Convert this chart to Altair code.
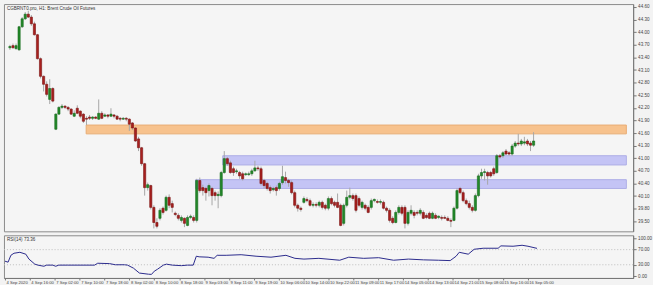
import altair as alt
import pandas as pd

# ---------------- data ----------------
opens = [43.63, 43.68, 43.61, 43.58, 44.13, 44.32, 44.43, 44.36, 44.20, 43.94,
         43.37, 42.95, 42.76, 42.40, 42.66, 41.69, 42.05, 42.21, 42.24, 42.21,
         42.17, 42.00, 42.19, 42.12, 42.05, 41.95, 41.98, 41.95, 41.98, 41.93,
         42.07, 42.00, 42.03, 42.00, 42.03, 42.00, 41.95, 41.93, 41.95, 41.93,
         41.84, 41.72, 41.46, 41.25, 40.87, 40.30, 40.35, 39.83, 39.47, 39.57,
         39.81, 39.76, 40.07, 39.92, 39.69, 39.64, 39.52, 39.57, 39.40, 39.59,
         39.59, 39.52, 40.47, 40.30, 40.28, 40.23, 40.28, 40.18, 40.11,
         40.11, 40.66, 40.99, 40.89, 40.75, 40.68, 40.66, 40.63, 40.61,
         40.61, 40.63, 40.70, 40.77, 40.75, 40.47, 40.40, 40.30, 40.25, 40.30,
         40.28, 40.42, 40.54, 40.47, 40.42, 40.18, 39.88, 39.81, 39.95,
         40.02, 39.99, 39.88, 39.90, 39.88, 39.95, 39.88, 39.81, 40.04, 39.95,
         39.95, 39.88, 39.45, 39.88, 40.07, 40.11, 40.11, 40.04, 39.83, 39.88,
         39.83, 39.83, 39.99, 39.97, 39.95, 39.95, 39.81, 39.76, 39.57,
         39.47, 39.71, 39.83, 39.83, 39.45, 39.69, 39.71, 39.71, 39.69, 39.71,
         39.64, 39.69, 39.57, 39.64, 39.59, 39.59, 39.59, 39.57,
         39.52, 39.52, 39.81, 40.28, 40.18, 39.99, 39.92, 39.83, 39.76,
         40.11, 40.58, 40.66, 40.66, 40.66, 40.75, 40.66, 41.06, 41.06, 41.17,
         41.13, 41.10, 41.29, 41.36, 41.34, 41.36, 41.41, 41.36, 41.31]
closes = [43.66, 43.63, 43.68, 44.13, 44.32, 44.43, 44.36, 44.20, 43.94, 43.37,
          42.95, 42.76, 42.52, 42.66, 42.36, 42.05, 42.21, 42.24, 42.21, 42.17,
          42.05, 42.07, 42.07, 42.00, 41.88, 41.93, 41.95, 41.98, 41.95, 42.07,
          41.95, 42.03, 42.00, 42.05, 42.00, 41.93, 41.93, 41.95, 41.93, 41.81,
          41.72, 41.41, 41.25, 40.87, 40.30, 40.37, 39.83, 39.47, 39.38, 39.76,
          39.71, 40.07, 39.88, 39.83, 39.66, 39.57, 39.59, 39.45, 39.59, 39.62,
          39.52, 40.47, 40.23, 40.23, 40.18, 40.35, 40.11, 40.11, 40.14,
          40.66, 40.99, 40.87, 40.66, 40.66, 40.70, 40.58, 40.51, 40.63,
          40.63, 40.70, 40.77, 40.75, 40.40, 40.35, 40.28, 40.23, 40.28, 40.23,
          40.40, 40.56, 40.47, 40.42, 40.18, 39.88, 39.81, 39.78, 40.04,
          39.99, 39.88, 39.90, 39.88, 39.95, 39.83, 39.81, 40.04, 39.92, 39.88,
          39.83, 39.40, 39.88, 40.07, 40.11, 40.04, 39.76, 39.88, 39.95, 39.81,
          39.71, 39.99, 40.02, 39.95, 39.97, 39.81, 39.76, 39.52, 39.47,
          39.71, 39.83, 39.69, 39.45, 39.71, 39.76, 39.64, 39.69, 39.76, 39.57,
          39.59, 39.57, 39.69, 39.57, 39.62, 39.57, 39.57, 39.52,
          39.50, 39.81, 40.23, 40.18, 39.99, 39.92, 39.83, 39.76, 40.11,
          40.58, 40.66, 40.68, 40.58, 40.58, 40.63, 41.06, 41.03, 41.13, 41.10,
          41.10, 41.29, 41.36, 41.34, 41.41, 41.39, 41.34, 41.31, 41.41]
highs = [43.70, 43.73, 43.73, 44.15, 44.36, 44.48, 44.51, 44.41, 44.25, 43.96,
         43.40, 42.97, 42.83, 42.88, 42.69, 42.07, 42.24, 42.29, 42.26, 42.24,
         42.19, 42.14, 42.26, 42.14, 42.07, 42.00, 42.03, 42.00, 42.00, 42.40,
         42.12, 42.07, 42.05, 42.19, 42.05, 42.03, 41.98, 41.98, 41.98, 41.95,
         41.86, 41.74, 41.51, 41.27, 40.89, 40.42, 40.37, 39.88, 39.57, 39.81,
         39.85, 40.11, 40.14, 39.99, 39.73, 39.69, 39.64, 39.59, 39.64, 39.66,
         39.64, 40.51, 40.54, 40.37, 40.32, 40.40, 40.32, 40.23, 40.21,
         40.70, 41.17, 41.03, 40.94, 40.80, 40.75, 40.70, 40.68, 40.66,
         40.68, 40.75, 40.94, 40.82, 40.80, 40.51, 40.44, 40.35, 40.32, 40.35,
         40.44, 40.82, 40.68, 40.51, 40.47, 40.23, 39.92, 39.85, 40.09,
         40.07, 40.04, 39.95, 39.95, 39.99, 39.99, 39.92, 40.09, 40.09, 39.99,
         40.16, 39.92, 39.92, 40.23, 40.30, 40.16, 40.16, 40.09, 39.99, 39.92,
         39.88, 40.04, 40.04, 40.02, 40.02, 39.99, 39.85, 39.81, 39.62,
         39.76, 39.88, 39.88, 39.88, 39.76, 39.88, 39.76, 39.76, 39.81, 39.76,
         39.69, 39.73, 39.73, 39.69, 39.64, 39.64, 39.64, 39.62,
         39.57, 39.85, 40.28, 40.32, 40.23, 40.04, 39.99, 39.88, 40.16,
         40.63, 40.75, 40.75, 40.70, 40.70, 40.80, 41.10, 41.10, 41.17, 41.22,
         41.17, 41.34, 41.41, 41.58, 41.46, 41.51, 41.46, 41.41, 41.62]
lows = [43.58, 43.61, 43.58, 43.56, 44.10, 44.29, 44.34, 44.15, 43.92, 43.35,
        42.90, 42.59, 42.47, 42.29, 42.33, 41.67, 42.03, 42.17, 42.17, 42.12,
        42.03, 41.98, 42.05, 41.95, 41.84, 41.79, 41.91, 41.91, 41.93, 41.91,
        41.93, 41.98, 41.95, 41.98, 41.95, 41.91, 41.88, 41.91, 41.88, 41.65,
        41.67, 41.39, 41.17, 40.82, 40.11, 40.23, 39.78, 39.33, 39.33, 39.52,
        39.66, 39.73, 39.81, 39.71, 39.62, 39.52, 39.47, 39.36, 39.38, 39.55,
        39.47, 39.47, 40.18, 40.11, 39.99, 40.09, 39.88, 39.99, 39.81,
        40.07, 40.63, 40.82, 40.63, 40.58, 40.63, 40.51, 40.47, 40.58,
        40.58, 40.58, 40.68, 40.70, 40.35, 40.28, 40.23, 40.16, 40.21, 40.11,
        40.23, 40.37, 40.40, 40.32, 40.14, 39.83, 39.73, 39.73, 39.92,
        39.95, 39.85, 39.83, 39.83, 39.83, 39.78, 39.76, 39.76, 39.88, 39.83,
        39.81, 39.38, 39.40, 39.83, 40.02, 39.99, 39.71, 39.83, 39.78, 39.76,
        39.69, 39.78, 39.95, 39.92, 39.90, 39.78, 39.71, 39.47, 39.43,
        39.45, 39.66, 39.64, 39.33, 39.40, 39.64, 39.57, 39.64, 39.64, 39.55,
        39.55, 39.55, 39.55, 39.55, 39.55, 39.52, 39.55, 39.50,
        39.36, 39.50, 39.78, 40.14, 39.95, 39.88, 39.78, 39.71, 39.73,
        40.07, 40.51, 40.47, 40.37, 40.54, 40.58, 40.63, 40.99, 41.01, 41.08,
        41.06, 41.06, 41.25, 41.29, 41.29, 41.31, 41.29, 41.17, 41.27]

price_ticks = [39.50, 39.80, 40.10, 40.40, 40.70, 41.00, 41.30, 41.60, 41.90,
               42.20, 42.50, 42.80, 43.10, 43.40, 43.70, 44.00, 44.30, 44.60]
time_tick_bars = [0, 8, 16, 24, 32, 40, 48, 56, 64, 72, 80, 88, 96, 104, 112,
                  120, 128, 136, 144, 152, 160, 168]
time_tick_labels = ["4 Sep 2020", "4 Sep 16:00", "7 Sep 02:00", "7 Sep 10:00",
                    "7 Sep 18:00", "8 Sep 02:00", "8 Sep 10:00", "8 Sep 18:00",
                    "9 Sep 03:00", "9 Sep 11:00", "9 Sep 19:00", "10 Sep 06:00",
                    "10 Sep 14:00", "10 Sep 22:00", "11 Sep 09:00", "11 Sep 17:00",
                    "14 Sep 05:00", "14 Sep 13:00", "14 Sep 21:00", "15 Sep 08:00",
                    "15 Sep 16:00", "16 Sep 05:00"]

rsi_bars = [0, 1.0, 1.9, 2.9, 4.8, 6.7, 7.7, 9.6, 10.6, 12.5, 13.4, 15.4, 16.3,
            17.3, 20.2, 28.8, 29.8, 33.6, 35.5, 38.4, 39.4, 41.3, 43.2, 46.1,
            47.1, 48.0, 49.0, 50.9, 51.9, 53.8, 56.7, 58.6, 60.5, 61.5, 62.4,
            65.3, 67.2, 68.2, 71.1, 75.9, 80.7, 85.5, 90.3, 93.2, 96.1, 100.9,
            107.6, 110.5, 115.3, 120.1, 124.9, 129.7, 134.5, 139.3, 143.1,
            145.0, 146.0, 148.9, 150.8, 153.7, 158.5, 159.4, 163.3, 166.2,
            168.1, 171.0]
rsi_vals = [39.5, 36.8, 55.0, 60.5, 63.0, 58.0, 45.0, 31.6, 29.0, 26.0, 29.0,
            29.0, 26.0, 29.0, 29.0, 29.0, 34.0, 33.0, 30.0, 30.0, 29.0, 21.0,
            8.0, 5.0, 4.5, 13.0, 18.0, 29.0, 31.6, 29.0, 27.6, 29.0, 29.0, 52.6,
            51.0, 50.0, 47.0, 55.0, 55.0, 56.6, 52.6, 50.0, 55.0, 47.0, 45.0,
            47.0, 42.0, 50.0, 47.0, 48.7, 42.0, 45.0, 43.0, 42.0, 41.0, 52.6,
            63.0, 58.0, 71.0, 73.7, 73.7, 80.0, 79.0, 81.6, 79.0, 73.4]
rsi_levels = [30, 70]
rsi_ticks = [0, 30, 70, 100]

zone_start = [24.9, 69.5, 60.6]
zone_end = [201.3, 201.3, 201.3]
zone_top = [41.79, 41.06, 40.49]
zone_bottom = [41.58, 40.84, 40.28]
zone_fill = ["#f7c28d", "#c4c4f5", "#c4c4f5"]
zone_line = ["#e9ac74", "#aeaee6", "#aeaee6"]

chart_title = "CGBRNT0.pro, H1:  Brent Crude Oil Futures"
rsi_title = "RSI(14) 73.36"

# ---------------- frames ----------------
n = len(opens)
candles = pd.DataFrame({
    "bar": list(range(n)), "open": opens, "high": highs,
    "low": lows, "close": closes,
})
candles["dir"] = ["up" if c >= o else "down" for o, c in zip(opens, closes)]
zones = pd.DataFrame({"s": zone_start, "e": zone_end, "t": zone_top,
                      "b": zone_bottom, "fill": zone_fill, "line": zone_line})
rsi = pd.DataFrame({"bar": rsi_bars, "rsi": rsi_vals})
levels = pd.DataFrame({"lvl": rsi_levels})

FONT = "Liberation Sans"
XS = alt.Scale(domain=[-0.32, 201.9], nice=False, zero=False)
YS = alt.Scale(domain=[39.26, 44.67], nice=False, zero=False)
RS = alt.Scale(domain=[-5, 108], nice=False, zero=False)

yaxis = alt.Axis(orient="right", values=price_ticks, format=".2f", title=None,
                 labelFontSize=4.6, labelFont=FONT, labelColor="#444444",
                 tickSize=3, tickColor="#777777", domainColor="#777777",
                 labelPadding=1.5, grid=False, labelOverlap=False, labelFlush=False)
raxis = alt.Axis(orient="right", values=rsi_ticks, format=".2f", title=None,
                 labelFontSize=4.6, labelFont=FONT, labelColor="#444444",
                 tickSize=3, tickColor="#777777", domainColor="#777777",
                 labelPadding=1.5, grid=False, labelOverlap=False, labelFlush=False)
label_expr = ("[" + ",".join("'" + s + "'" for s in time_tick_labels) + "]"
              "[indexof([" + ",".join(str(v) for v in time_tick_bars) + "], datum.value)]")
xaxis = alt.Axis(orient="bottom", values=time_tick_bars, labelExpr=label_expr,
                 title=None, labelFontSize=4.2, labelFont=FONT, labelColor="#444444",
                 labelAlign="left", labelPadding=1, tickSize=2, tickColor="#777777",
                 domainColor="#777777", grid=False, labelOverlap=False,
                 labelFlush=False, labelBound=False, labelOffset=1)

W = 634

def ym(field):
    return alt.Y(field, type="quantitative", scale=YS, axis=yaxis)

zone_layer = alt.Chart(zones).mark_rect(strokeWidth=1).encode(
    x=alt.X("s:Q", scale=XS, axis=None), x2="e:Q",
    y=ym("t"), y2="b:Q",
    fill=alt.Fill("fill:N", scale=None),
    stroke=alt.Stroke("line:N", scale=None),
)
wick_layer = alt.Chart(candles).mark_rule(color="#a6a6a6", strokeWidth=1).encode(
    x=alt.X("bar:Q", scale=XS, axis=None), y=ym("low"), y2="high:Q")
body_layer = alt.Chart(candles).mark_bar(width=2.2, strokeWidth=0.6).encode(
    x=alt.X("bar:Q", scale=XS, axis=None), y=ym("open"), y2="close:Q",
    fill=alt.Fill("dir:N", scale=alt.Scale(domain=["up", "down"],
                                           range=["#23892a", "#a8201e"]), legend=None),
    stroke=alt.Stroke("dir:N", scale=alt.Scale(domain=["up", "down"],
                                               range=["#146a19", "#7c1212"]), legend=None),
)
title_layer = alt.Chart(pd.DataFrame({"t": [chart_title]})).mark_text(
    align="left", baseline="top", fontSize=4.6, font=FONT, color="#333333").encode(
    text="t:N", x=alt.value(3), y=alt.value(2))

main = alt.layer(zone_layer, wick_layer, body_layer, title_layer).properties(
    width=W, height=229)

level_layer = alt.Chart(levels).mark_rule(color="#bdbdbd", strokeDash=[1, 2],
                                          strokeWidth=1).encode(
    y=alt.Y("lvl:Q", scale=RS, axis=raxis))
rsi_line = alt.Chart(rsi).mark_line(color="#2a2a8c", strokeWidth=1).encode(
    x=alt.X("bar:Q", scale=XS, axis=xaxis),
    y=alt.Y("rsi:Q", scale=RS, axis=raxis))
rsi_text = alt.Chart(pd.DataFrame({"t": [rsi_title]})).mark_text(
    align="left", baseline="top", fontSize=4.6, font=FONT, color="#333333").encode(
    text="t:N", x=alt.value(3), y=alt.value(2))

lower = alt.layer(level_layer, rsi_line, rsi_text).properties(width=W, height=43)

chart = alt.vconcat(main, lower, spacing=2).configure(
    background="#f3f3f3",
    padding={"left": 2, "top": 2, "right": 0, "bottom": 0},
).configure_view(stroke="#8a8a8a", strokeWidth=1, fill="#f5f5f5")

chart.save("out.html", embed_options={"renderer": "svg", "actions": False})
